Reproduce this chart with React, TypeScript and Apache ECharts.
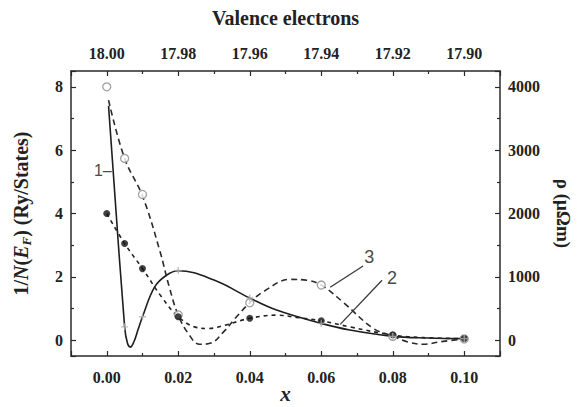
import React, { useEffect, useRef } from 'react';
import * as echarts from 'echarts';

// ---- data ----
const markerX = [0, 0.005, 0.01, 0.02, 0.04, 0.06, 0.08, 0.1];
// curve 3: open circles, resistivity (right axis, μΩm)
const rhoMarkers = [4000, 2870, 2300, 400, 590, 870, 60, 20];
// curve 2: filled circles (left axis)
const filledMarkers = [4.0, 3.05, 2.26, 0.74, 0.69, 0.61, 0.17, 0.05];
// curve 1: "+" markers (left axis)
const plusX = [0.005, 0.01, 0.02, 0.04, 0.06, 0.08, 0.1];
const plusY = [0.42, 0.74, 2.2, 1.33, 0.53, 0.12, 0.05];

// curves
const curve1X = [0.0005, 0.005, 0.0058, 0.0066, 0.0076, 0.0088, 0.01, 0.0134, 0.0167, 0.02, 0.03, 0.04, 0.0475, 0.06, 0.068, 0.08, 0.09, 0.1];
const curve1Y = [7.4, 0.42, -0.1, -0.22, -0.05, 0.35, 0.74, 1.68, 2.05, 2.19, 1.9, 1.33, 0.95, 0.53, 0.32, 0.12, 0.07, 0.05];

const curve2X = [0, 0.005, 0.01, 0.0153, 0.02, 0.0246, 0.0284, 0.033, 0.04, 0.0475, 0.053, 0.06, 0.068, 0.08, 0.0886, 0.1];
const curve2Y = [4.0, 3.05, 2.26, 1.37, 0.74, 0.42, 0.37, 0.47, 0.69, 0.79, 0.72, 0.61, 0.42, 0.16, 0.08, 0.05];

const curve3X = [0.0005, 0.005, 0.01, 0.0148, 0.0176, 0.02, 0.0228, 0.026, 0.0289, 0.033, 0.036, 0.04, 0.0438, 0.0513, 0.056, 0.06, 0.066, 0.0746, 0.08, 0.084, 0.0886, 0.0933, 0.1];
const curve3Y = [3790, 2870, 2275, 1420, 815, 395, 105, -65, -50, 150, 350, 590, 765, 960, 945, 870, 605, 185, 65, -25, -65, -25, 20];

const valenceLabels = ['18.00', '17.98', '17.96', '17.94', '17.92', '17.90'];

// annotations (data coordinates, left axis)
const curveLabels = [
  { text: '1–', x: -0.0011, y: 5.37 },
  { text: '3', x: 0.0734, y: 2.62 },
  { text: '2', x: 0.0798, y: 1.97 },
];
const leaders = [
  { from: [0.0717, 2.34], to: [0.0625, 1.67] },
  { from: [0.077, 1.89], to: [0.0653, 0.5] },
];

const SERIF = '"Liberation Serif", "Times New Roman", serif';
const SANS = '"Liberation Sans", Arial, sans-serif';
const AX = '#2a2a2a';

const zip = (xs: number[], ys: number[]) => xs.map((x, i) => [x, ys[i]]);

export default function App() {
  const ref = useRef<HTMLDivElement>(null);
  useEffect(() => {
    document.body.style.margin = '0';
    if (!ref.current) return;
    const chart = echarts.init(ref.current, undefined, { renderer: 'svg' });

    const isMajor = (v: number) => Math.abs(v / 0.02 - Math.round(v / 0.02)) < 1e-6 && v > -0.001 && v < 0.101;
    const axisCommon = {
      axisLine: { show: true, onZero: false, lineStyle: { color: AX, width: 1.5 } },
      axisTick: { show: true, inside: true, length: 5, lineStyle: { color: AX, width: 1.2 } },
      minorTick: { show: true, splitNumber: 2, length: 3, lineStyle: { color: AX, width: 1.2 } },
      splitLine: { show: false },
      minorSplitLine: { show: false },
      nameMoveOverlap: false,
    };
    const labelStyle = { fontFamily: SERIF, fontWeight: 'bold', fontSize: 16, color: '#222' };

    chart.setOption({
      animation: false,
      backgroundColor: '#fff',
      grid: { left: 71, right: 82, top: 71, bottom: 51, containLabel: false, outerBoundsMode: 'none' },
      xAxis: [
        {
          type: 'value', position: 'bottom', min: -0.01, max: 0.11, splitNumber: 6,
          ...axisCommon,
          axisLabel: {
            ...labelStyle, margin: 13, showMinLabel: false, showMaxLabel: false,
            formatter: (v: number) => (isMajor(v) ? v.toFixed(2) : ''),
          },
          name: 'x', nameLocation: 'middle', nameGap: 27,
          nameTextStyle: { fontFamily: SERIF, fontWeight: 'bold', fontStyle: 'italic', fontSize: 21, color: '#222' },
        },
        {
          type: 'value', position: 'top', min: -0.01, max: 0.11, splitNumber: 6,
          ...axisCommon,
          axisLabel: {
            ...labelStyle, margin: 10, showMinLabel: false, showMaxLabel: false,
            formatter: (v: number) => (isMajor(v) ? valenceLabels[Math.round(v / 0.02)] : ''),
          },
          name: 'Valence electrons', nameLocation: 'middle', nameGap: 43,
          nameTextStyle: { fontFamily: SERIF, fontWeight: 'bold', fontSize: 20, color: '#222' },
        },
      ],
      yAxis: [
        {
          type: 'value', position: 'left', min: -0.5, max: 8.5, splitNumber: 5,
          ...axisCommon,
          axisLabel: {
            ...labelStyle, margin: 8, showMinLabel: false, showMaxLabel: false,
            formatter: (v: number) => (Number.isInteger(v) ? String(v) : ''),
          },
          name: '{a|1/}{i|N}{a|(}{i|E}{s|F}{a|) (Ry/States)}',
          nameLocation: 'middle', nameGap: 38, nameRotate: 90,
          nameTextStyle: {
            fontFamily: SERIF, fontWeight: 'bold', fontSize: 20, color: '#222',
            rich: {
              a: { fontFamily: SERIF, fontWeight: 'bold', fontSize: 20, color: '#222', verticalAlign: 'middle', lineHeight: 24 },
              i: { fontFamily: SERIF, fontWeight: 'bold', fontStyle: 'italic', fontSize: 20, color: '#222', verticalAlign: 'middle', lineHeight: 24 },
              s: { fontFamily: SERIF, fontWeight: 'bold', fontStyle: 'italic', fontSize: 13, color: '#222', verticalAlign: 'bottom', lineHeight: 13 },
            },
          },
        },
        {
          type: 'value', position: 'right', min: -250, max: 4250, splitNumber: 5,
          ...axisCommon,
          axisLabel: {
            ...labelStyle, margin: 8, showMinLabel: false, showMaxLabel: false,
            formatter: (v: number) => (v % 1000 === 0 ? String(v) : ''),
          },
          name: 'ρ (μΩm)', nameLocation: 'middle', nameGap: 54, nameRotate: -90,
          nameTextStyle: { fontFamily: SERIF, fontWeight: 'bold', fontSize: 19, color: '#222' },
        },
      ],
      series: [
        {
          type: 'line', name: 'c1', xAxisIndex: 0, yAxisIndex: 0, smooth: 0.4, showSymbol: false,
          data: zip(curve1X, curve1Y), lineStyle: { color: '#1e1e1e', width: 1.6 }, z: 2,
        },
        {
          type: 'line', name: 'c2', xAxisIndex: 0, yAxisIndex: 0, smooth: 0.4, showSymbol: false,
          data: zip(curve2X, curve2Y), lineStyle: { color: '#222', width: 1.6, type: [4, 4] }, z: 2,
        },
        {
          type: 'line', name: 'c3', xAxisIndex: 0, yAxisIndex: 1, smooth: 0.4, showSymbol: false,
          data: zip(curve3X, curve3Y), lineStyle: { color: '#2a2a2a', width: 1.6, type: [6, 4] }, z: 2,
        },
        {
          type: 'scatter', xAxisIndex: 0, yAxisIndex: 1, symbol: 'circle', symbolSize: 8,
          data: zip(markerX, rhoMarkers), itemStyle: { color: '#fff', borderColor: '#8a8a8a', borderWidth: 1.3 }, z: 4,
        },
        {
          type: 'scatter', xAxisIndex: 0, yAxisIndex: 0, symbol: 'circle', symbolSize: 7,
          data: zip(markerX, filledMarkers), itemStyle: { color: '#111' }, z: 5,
        },
        {
          type: 'scatter', xAxisIndex: 0, yAxisIndex: 0, symbol: 'path://M4,0h2v4h4v2h-4v4h-2v-4h-4v-2h4z', symbolSize: 7,
          data: zip(plusX, plusY), itemStyle: { color: '#b0b0b0' }, z: 6,
        },
      ],
    });

    const px = (p: number[]) => chart.convertToPixel({ xAxisIndex: 0, yAxisIndex: 0 }, p) as number[];
    const graphics: any[] = [];
    curveLabels.forEach((l) => {
      const [x, y] = px([l.x, l.y]);
      graphics.push({
        type: 'text', x, y,
        style: { text: l.text, fontFamily: SANS, fontSize: l.text.length > 1 ? 16 : 18, fill: '#4a4a4a', align: 'center', verticalAlign: 'middle' },
        z: 10,
      });
    });
    leaders.forEach((ld) => {
      const [x1, y1] = px(ld.from);
      const [x2, y2] = px(ld.to);
      graphics.push({ type: 'line', shape: { x1, y1, x2, y2 }, style: { stroke: '#3a3a3a', lineWidth: 1.3 }, z: 10 });
    });
    chart.setOption({ graphic: graphics });

    return () => chart.dispose();
  }, []);
  return <div ref={ref} style={{ width: 582, height: 407 }} />;
}
